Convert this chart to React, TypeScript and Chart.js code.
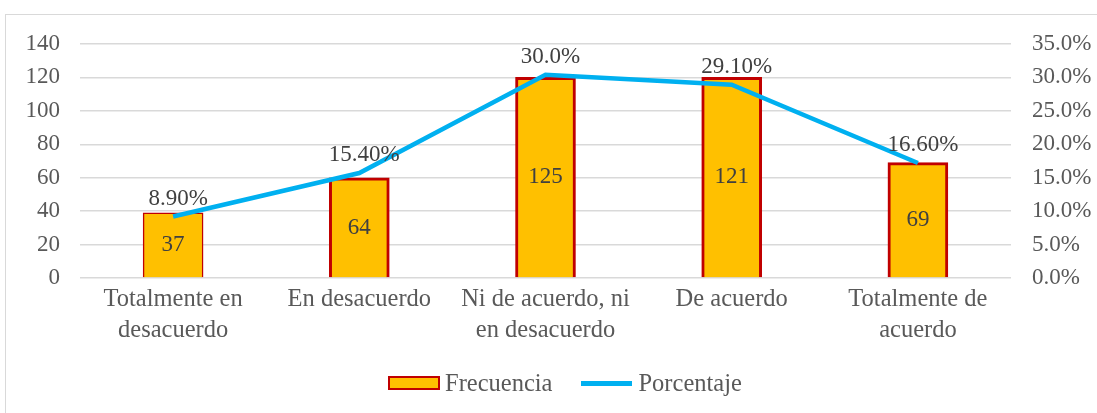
import React, { useEffect, useRef } from "react";
import { Chart, registerables } from "chart.js";

Chart.register(...registerables);

const categories: (string | string[])[] = [
  ["Totalmente en", "desacuerdo"],
  "En desacuerdo",
  ["Ni de acuerdo, ni", "en desacuerdo"],
  "De acuerdo",
  ["Totalmente de", "acuerdo"],
];
// bar heights as drawn in the picture
const frecuencia = [39, 60, 120, 120, 69];
// labels printed on the bars
const frecuenciaLabels = ["37", "64", "125", "121", "69"];
// line points (percent) as drawn in the picture
const porcentaje = [9.2, 15.7, 30.4, 28.9, 17.2];
// labels printed above the line
const porcentajeLabels = ["8.90%", "15.40%", "30.0%", "29.10%", "16.60%"];

const leftTicks = { min: 0, max: 140, step: 20 };
const rightTicks = { min: 0, max: 35, step: 5 };

const FONT = '"Liberation Serif", "Times New Roman", serif';
const TEXT = "#595959";

const labelPlugin = {
  id: "valueLabels",
  afterDatasetsDraw(chart: any) {
    const ctx = chart.ctx;
    ctx.save();
    ctx.font = `23px ${FONT}`;
    ctx.fillStyle = "#404040";
    ctx.textAlign = "center";
    ctx.textBaseline = "middle";
    const barMeta = chart.getDatasetMeta(0);
    barMeta.data.forEach((el: any, i: number) => {
      const p = el.getProps(["x", "y", "base"], true);
      ctx.fillText(frecuenciaLabels[i], p.x, (p.y + p.base) / 2);
    });
    const lineMeta = chart.getDatasetMeta(1);
    lineMeta.data.forEach((el: any, i: number) => {
      ctx.fillText(porcentajeLabels[i], el.x + 5, el.y - 18);
    });
    ctx.restore();
  },
};

export default function App() {
  const ref = useRef<HTMLCanvasElement | null>(null);

  useEffect(() => {
    if (!ref.current) return;
    const chart = new Chart(ref.current, {
      type: "bar",
      data: {
        labels: categories,
        datasets: [
          {
            type: "bar",
            label: "Frecuencia",
            data: frecuencia,
            backgroundColor: "#FFC000",
            borderColor: "#C00000",
            borderWidth: [1.5, 3, 3, 3, 3],
            barThickness: 60,
            yAxisID: "y",
            order: 2,
          },
          {
            type: "line",
            label: "Porcentaje",
            data: porcentaje,
            borderColor: "#00B0F0",
            backgroundColor: "#00B0F0",
            borderWidth: 4.5,
            pointRadius: 0,
            tension: 0,
            yAxisID: "y1",
            order: 1,
          },
        ] as any,
      },
      options: {
        animation: false,
        responsive: false,
        layout: { padding: { top: 44, bottom: 55, left: 0, right: 0 } },
        plugins: {
          legend: { display: false },
          tooltip: { enabled: false },
        },
        scales: {
          x: {
            grid: { display: false, drawTicks: false },
            border: { display: false },
            ticks: {
              color: TEXT,
              font: { family: FONT, size: 24.5, lineHeight: 1.28 },
              padding: 6,
              maxRotation: 0,
              autoSkip: false,
            },
            afterFit(scale: any) {
              scale.height = 80;
            },
          },
          y: {
            position: "left",
            min: leftTicks.min,
            max: leftTicks.max,
            grid: { color: "#D9D9D9", lineWidth: 1.5, drawTicks: false },
            border: { display: false },
            ticks: {
              stepSize: leftTicks.step,
              color: TEXT,
              font: { family: FONT, size: 23 },
              padding: 20,
            },
            afterFit(scale: any) {
              scale.width = 80;
            },
          },
          y1: {
            position: "right",
            min: rightTicks.min,
            max: rightTicks.max,
            grid: { display: false, drawTicks: false },
            border: { display: false },
            ticks: {
              stepSize: rightTicks.step,
              color: TEXT,
              font: { family: FONT, size: 23 },
              padding: 21,
              callback: (v: any) => Number(v).toFixed(1) + "%",
            },
            afterFit(scale: any) {
              scale.width = 86;
            },
          },
        },
      } as any,
      plugins: [labelPlugin],
    });
    return () => chart.destroy();
  }, []);

  const legendText: React.CSSProperties = {
    fontFamily: FONT,
    fontSize: 24.5,
    color: TEXT,
    lineHeight: "28px",
    whiteSpace: "nowrap",
  };

  return (
    <div style={{ position: "absolute", left: 0, top: 0, width: 1097, height: 413, background: "#fff", overflow: "hidden" }}>
      <div
        style={{
          position: "absolute",
          left: 5,
          top: 14,
          width: 1200,
          height: 500,
          borderLeft: "1.5px solid #D9D9D9",
          borderTop: "1.5px solid #D9D9D9",
        }}
      />
      <canvas ref={ref} width={1097} height={413} style={{ position: "absolute", left: 0, top: 0, width: 1097, height: 413 }} />
      <div
        style={{
          position: "absolute",
          left: 388,
          top: 369,
          display: "flex",
          alignItems: "center",
        }}
      >
        <div style={{ display: "flex", alignItems: "center", marginRight: 29 }}>
          <div style={{ width: 48, height: 10, background: "#FFC000", border: "2px solid #C00000", marginRight: 5 }} />
          <span style={legendText}>Frecuencia</span>
        </div>
        <div style={{ display: "flex", alignItems: "center" }}>
          <div style={{ width: 51, height: 5, background: "#00B0F0", marginRight: 6 }} />
          <span style={legendText}>Porcentaje</span>
        </div>
      </div>
    </div>
  );
}
